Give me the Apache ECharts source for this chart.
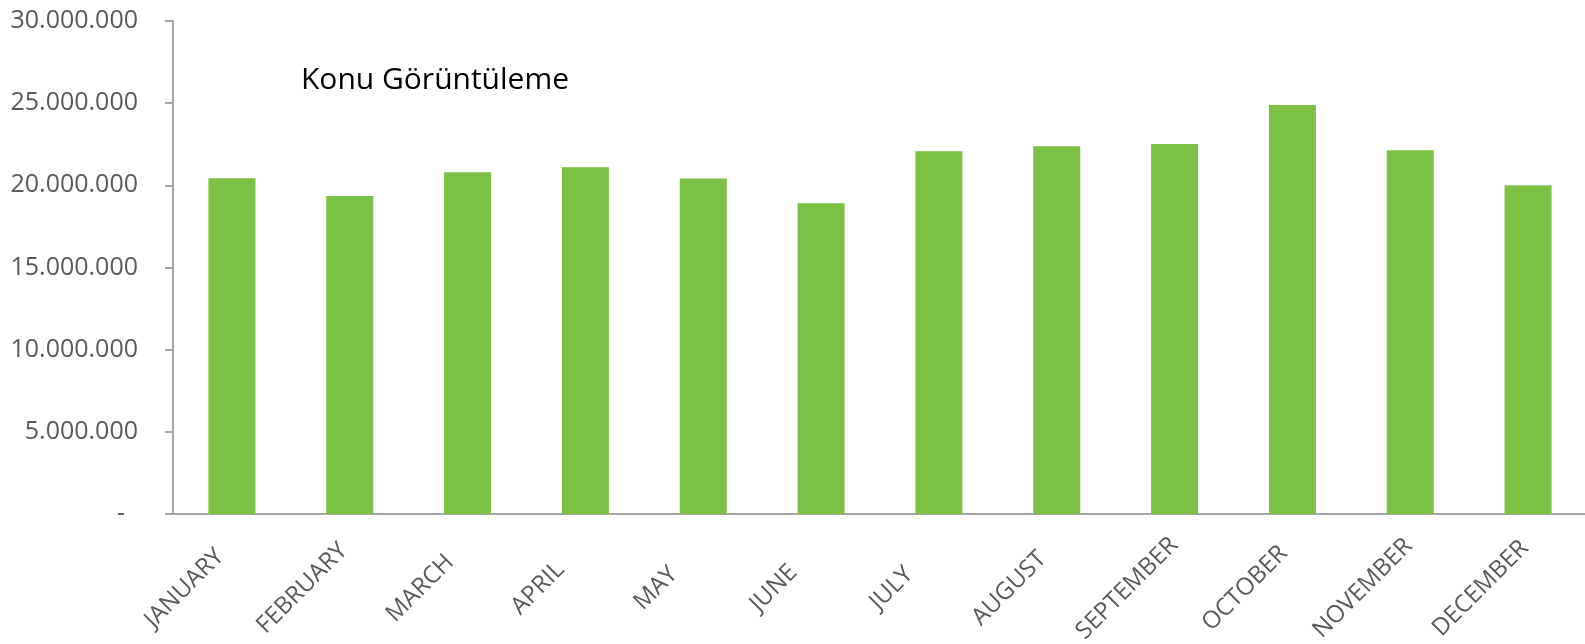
<!DOCTYPE html>
<html>
<head>
<meta charset="utf-8">
<script src="https://cdn.jsdelivr.net/npm/echarts@6/dist/echarts.min.js"></script>
<style>
  html, body { margin: 0; padding: 0; background: #fff; }
  #main { width: 1585px; height: 644px; }
</style>
</head>
<body>
<div id="main"></div>
<script>
// aylar ve değerler
var months = ['JANUARY', 'FEBRUARY', 'MARCH', 'APRIL', 'MAY', 'JUNE', 'JULY',
  'AUGUST', 'SEPTEMBER', 'OCTOBER', 'NOVEMBER', 'DECEMBER'];
var views = [20430000, 19350000, 20790000, 21100000, 20410000, 18910000,
  22070000, 22380000, 22520000, 24890000, 22130000, 20000000];
var seriesName = 'Konu Görüntüleme';

function fmt(v) {
  if (v === 0) return '-  ';
  return String(v).replace(/\B(?=(\d{3})+(?!\d))/g, '.');
}

var chart = echarts.init(document.getElementById('main'));
chart.setOption({
  animation: false,
  title: {
    text: seriesName,
    left: 301,
    top: 65,
    padding: 0,
    textStyle: { fontFamily: 'Open Sans', fontSize: 30, fontWeight: 'normal', color: '#000' }
  },
  grid: { left: 173, top: 21, width: 1414, height: 493, outerBoundsMode: 'none', containLabel: false },
  xAxis: {
    type: 'category',
    data: months,
    axisLine: { lineStyle: { color: '#A6A6A6', width: 2 } },
    axisTick: { length: 8, lineStyle: { color: '#A6A6A6', width: 2 } },
    axisLabel: {
      rotate: 45, interval: 0, margin: 27,
      // excel etiketleri ortalanmış, sağ dolgu ile sola kaydırılıyor
      align: 'center', verticalAlign: 'middle',
      padding: [0, 134, 0, 0],
      hideOverlap: false,
      fontFamily: 'Open Sans', fontSize: 24, color: '#595959'
    }
  },
  yAxis: {
    type: 'value',
    min: 0, max: 30000000, interval: 5000000,
    splitLine: { show: false },
    axisLine: { show: true, lineStyle: { color: '#A6A6A6', width: 2 } },
    axisTick: { show: true, length: 8, lineStyle: { color: '#A6A6A6', width: 2 } },
    axisLabel: {
      margin: 35, formatter: fmt,
      fontFamily: 'Open Sans', fontSize: 25, color: '#595959'
    }
  },
  series: [{
    name: seriesName,
    type: 'bar',
    data: views,
    barWidth: 47,
    itemStyle: { color: '#7BC143' }
  }]
});
</script>
</body>
</html>
